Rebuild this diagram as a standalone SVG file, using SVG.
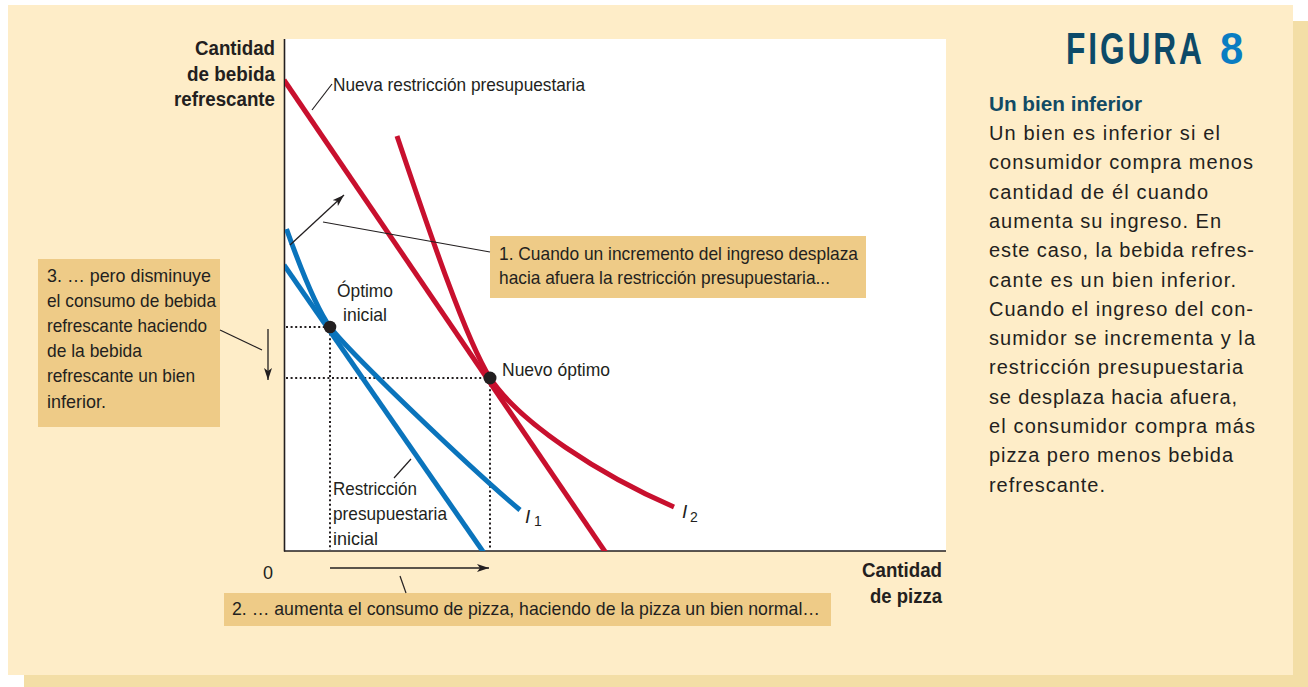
<svg xmlns="http://www.w3.org/2000/svg" width="1308" height="687" viewBox="0 0 1308 687">
<style>
.cond{font-family:"Liberation Sans Narrow","Liberation Sans",Arial,sans-serif;fill:#231F20}
.bold{font-weight:bold}
.body{font-family:"Liberation Sans",Arial,sans-serif;font-size:20px;fill:#231F20}
.lead{stroke:#231F20;stroke-width:1.2;fill:none}
.arr{stroke:#231F20;stroke-width:1.3;fill:none;marker-end:url(#ah)}
.dot{stroke:#231F20;stroke-width:2;stroke-dasharray:2 2.6;fill:none}
.red{stroke:#C8102E;stroke-width:5;fill:none}
.blue{stroke:#0A74BC;stroke-width:5;fill:none}
.box{fill:#EECB87}
</style>
<defs>
<marker id="ah" viewBox="0 0 12 8" refX="12" refY="4" markerWidth="12" markerHeight="8" orient="auto" markerUnits="userSpaceOnUse">
<path d="M0,0 L12,4 L0,8 L3,4 z" fill="#231F20"/>
</marker>
<clipPath id="plot"><rect x="285" y="0" width="661" height="551"/></clipPath>
</defs>
<!-- background panel -->
<rect x="24" y="21" width="1284" height="666" fill="#F3DEA6"/>
<rect x="8" y="5" width="1285" height="670" fill="#FEEDC8"/>
<rect x="285" y="39" width="661" height="512" fill="#FFFFFF"/>

<g id="axes">
<line x1="284.5" y1="39" x2="284.5" y2="551.5" stroke="#231F20" stroke-width="1.6"/>
<line x1="284" y1="551" x2="946" y2="551" stroke="#231F20" stroke-width="1.6"/>
<text class="cond bold" font-size="20" text-anchor="end" x="275" y="55" textLength="80" lengthAdjust="spacingAndGlyphs">Cantidad</text>
<text class="cond bold" font-size="20" text-anchor="end" x="275" y="81" textLength="88" lengthAdjust="spacingAndGlyphs">de bebida</text>
<text class="cond bold" font-size="20" text-anchor="end" x="275" y="106" textLength="101" lengthAdjust="spacingAndGlyphs">refrescante</text>
<text class="cond bold" font-size="20" text-anchor="end" x="942" y="577" textLength="80" lengthAdjust="spacingAndGlyphs">Cantidad</text>
<text class="cond bold" font-size="20" text-anchor="end" x="942" y="603" textLength="72" lengthAdjust="spacingAndGlyphs">de pizza</text>
<text class="cond" font-size="18" x="263" y="579">0</text>
</g>

<g id="guides">
<path class="dot" d="M286,327 H330 M286,378 H490 M330,329 V550 M490,380 V550"/>
</g>

<g id="budget-initial" clip-path="url(#plot)">
<line class="blue" x1="284" y1="265" x2="484" y2="553"/>
</g>
<g id="budget-new" clip-path="url(#plot)">
<line class="red" x1="284" y1="80" x2="606" y2="553"/>
</g>
<g id="curve-I1" clip-path="url(#plot)">
<path class="blue" d="M286.5,229 C294,250 314,305 330,327 C352,355 470,468 520,510"/>
</g>
<g id="curve-I2">
<path class="red" d="M397,136 C427,224.5 465,338 490,378 C520,423 600,475 674,507"/>
</g>

<g id="optimum-initial">
<circle cx="330" cy="327" r="6.3" fill="#231F20"/>
<text class="cond" font-size="19" text-anchor="middle" x="365" y="297" textLength="56" lengthAdjust="spacingAndGlyphs">Óptimo</text>
<text class="cond" font-size="19" text-anchor="middle" x="365" y="321" textLength="44" lengthAdjust="spacingAndGlyphs">inicial</text>
</g>
<g id="optimum-new">
<circle cx="490" cy="378" r="6.5" fill="#231F20"/>
<text class="cond" font-size="19" x="502" y="376" textLength="108" lengthAdjust="spacingAndGlyphs">Nuevo óptimo</text>
</g>

<g id="label-new-budget">
<text class="cond" font-size="19" x="333" y="91" textLength="252" lengthAdjust="spacingAndGlyphs">Nueva restricción presupuestaria</text>
</g>
<g id="label-initial-budget">
<text class="cond" font-size="19" x="333" y="495" textLength="84" lengthAdjust="spacingAndGlyphs">Restricción</text>
<text class="cond" font-size="19" x="333" y="520" textLength="114" lengthAdjust="spacingAndGlyphs">presupuestaria</text>
<text class="cond" font-size="19" x="333" y="545" textLength="45" lengthAdjust="spacingAndGlyphs">inicial</text>
</g>
<g id="label-I1">
<text class="cond" font-size="19" font-style="italic" x="525" y="523">I</text>
<text class="cond" font-size="14" x="534" y="526">1</text>
</g>
<g id="label-I2">
<text class="cond" font-size="19" font-style="italic" x="682" y="518">I</text>
<text class="cond" font-size="14" x="690" y="522">2</text>
</g>

<g id="callout-1">
<rect class="box" x="490" y="236" width="376" height="62"/>
<text class="cond" font-size="19" x="499" y="260" textLength="359" lengthAdjust="spacingAndGlyphs">1. Cuando un incremento del ingreso desplaza</text>
<text class="cond" font-size="19" x="499" y="284" textLength="331" lengthAdjust="spacingAndGlyphs">hacia afuera la restricción presupuestaria...</text>
</g>
<g id="callout-2">
<rect class="box" x="224" y="593" width="607" height="33"/>
<text class="cond" font-size="19" x="232" y="615" textLength="588" lengthAdjust="spacingAndGlyphs">2. … aumenta el consumo de pizza, haciendo de la pizza un bien normal…</text>
</g>
<g id="callout-3">
<rect class="box" x="38" y="259" width="182" height="168"/>
<text class="cond" font-size="19" x="47" y="282" textLength="164" lengthAdjust="spacingAndGlyphs">3. … pero disminuye</text>
<text class="cond" font-size="19" x="47" y="307" textLength="169" lengthAdjust="spacingAndGlyphs">el consumo de bebida</text>
<text class="cond" font-size="19" x="47" y="332" textLength="160" lengthAdjust="spacingAndGlyphs">refrescante haciendo</text>
<text class="cond" font-size="19" x="47" y="357" textLength="95" lengthAdjust="spacingAndGlyphs">de la bebida</text>
<text class="cond" font-size="19" x="47" y="382" textLength="148" lengthAdjust="spacingAndGlyphs">refrescante un bien</text>
<text class="cond" font-size="19" x="47" y="408" textLength="59" lengthAdjust="spacingAndGlyphs">inferior.</text>
</g>

<g id="connectors">
<line class="lead" x1="312" y1="110" x2="332" y2="84"/>
<line class="lead" x1="323" y1="222" x2="490" y2="252"/>
<line class="lead" x1="220" y1="330" x2="262" y2="350"/>
<line class="lead" x1="411" y1="459" x2="394" y2="478"/>
<line class="lead" x1="400" y1="576" x2="406" y2="593"/>
<line class="arr" x1="290" y1="245" x2="344" y2="195"/>
<line class="arr" x1="268" y1="329" x2="268" y2="380"/>
<line class="arr" x1="330" y1="568" x2="489" y2="568"/>
</g>

<g id="caption">
<text font-family="'Liberation Sans',Arial,sans-serif" font-weight="bold" font-size="44" fill="#0D4A68" letter-spacing="4" transform="translate(1066,64) scale(0.72,1)">FIGURA</text>
<text font-family="'Liberation Sans',Arial,sans-serif" font-weight="bold" font-size="44" fill="#0A7DC2" transform="translate(1220,64) scale(0.95,1)">8</text>
<text font-family="'Liberation Sans Narrow','Liberation Sans',Arial,sans-serif" font-weight="bold" font-size="21" fill="#124A64" x="989" y="111" textLength="153" lengthAdjust="spacingAndGlyphs">Un bien inferior</text>
<text class="body" x="989" y="140" textLength="231">Un bien es inferior si el</text>
<text class="body" x="989" y="169.3" textLength="264">consumidor compra menos</text>
<text class="body" x="989" y="198.6" textLength="219">cantidad de él cuando</text>
<text class="body" x="989" y="227.9" textLength="232">aumenta su ingreso. En</text>
<text class="body" x="989" y="257.2" textLength="265">este caso, la bebida refres-</text>
<text class="body" x="989" y="286.5" textLength="247">cante es un bien inferior.</text>
<text class="body" x="989" y="315.8" textLength="264">Cuando el ingreso del con-</text>
<text class="body" x="989" y="345.1" textLength="266">sumidor se incrementa y la</text>
<text class="body" x="989" y="374.4" textLength="254">restricción presupuestaria</text>
<text class="body" x="989" y="403.7" textLength="248">se desplaza hacia afuera,</text>
<text class="body" x="989" y="433" textLength="266">el consumidor compra más</text>
<text class="body" x="989" y="462.3" textLength="244">pizza pero menos bebida</text>
<text class="body" x="989" y="491.6" textLength="116">refrescante.</text>
</g>
</svg>
